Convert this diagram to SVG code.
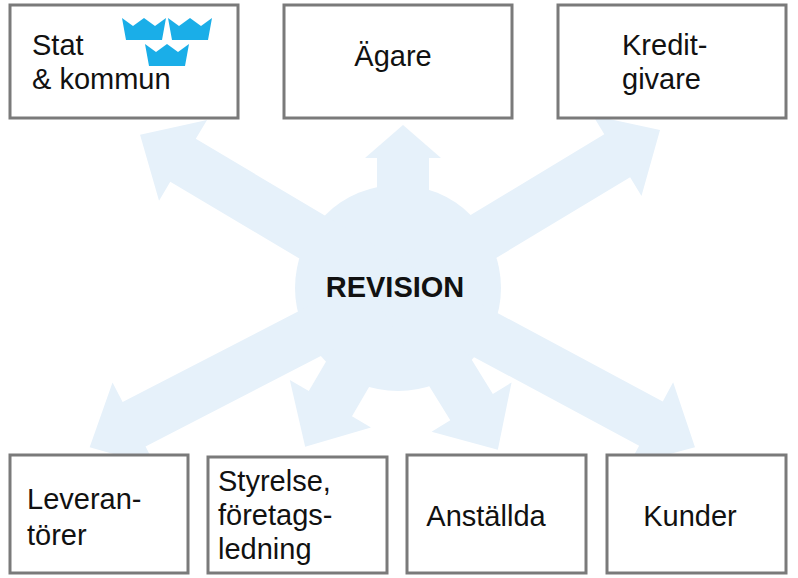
<svg xmlns="http://www.w3.org/2000/svg" width="798" height="578" viewBox="0 0 798 578">
<defs>
<style>
.box{fill:#fff;stroke:#7a7a7a;stroke-width:3}
.t{font-family:"Liberation Sans",Arial,sans-serif;font-size:29px;fill:#111}
.a{fill:#e6f1fa}
.cr{fill:#1aaee8}
</style>
<path id="crown" d="M0,0 L11,8 L22,0 L33,8 L44,0 L40,22 L4,22 Z"/>
</defs>
<rect width="798" height="578" fill="#fff"/>
<g id="connectors">
<circle class="a" cx="398" cy="288" r="103"/>
<polygon class="a" transform="translate(398,288) rotate(210.7)" points="0,-25 250,-25 250,-47 300,0 250,47 250,25 0,25"/>
<polygon class="a" transform="translate(403,288) rotate(-90)" points="0,-26 130,-26 130,-38 163,0 130,38 130,26 0,26"/>
<polygon class="a" transform="translate(398,288) rotate(-31.1)" points="0,-25 256,-25 256,-47 306,0 256,47 256,25 0,25"/>
<polygon class="a" transform="translate(398,288) rotate(152.7)" points="0,-25 297,-25 297,-47 347,0 297,47 297,25 0,25"/>
<polygon class="a" transform="translate(398,288) rotate(120.3)" points="0,-25 134,-25 134,-47 184,0 134,47 134,25 0,25"/>
<polygon class="a" transform="translate(398,288) rotate(58.3)" points="0,-25 140,-25 140,-47 190,0 140,47 140,25 0,25"/>
<polygon class="a" transform="translate(398,288) rotate(28.2)" points="0,-25 287,-25 287,-47 337,0 287,47 287,25 0,25"/>
</g>
<g id="revision"><text class="t" x="395" y="297" text-anchor="middle" font-weight="bold" font-size="30">REVISION</text></g>
<g id="stat">
<rect class="box" x="10" y="5" width="228" height="113"/>
<text class="t" x="32" y="55">Stat</text>
<text class="t" x="32" y="89">&amp; kommun</text>
<use href="#crown" class="cr" x="122" y="18"/>
<use href="#crown" class="cr" x="168" y="18"/>
<use href="#crown" class="cr" x="145" y="44"/>
</g>
<g id="agare"><rect class="box" x="284" y="5" width="228" height="113"/><text class="t" x="393" y="66" text-anchor="middle">Ägare</text></g>
<g id="kredit"><rect class="box" x="558" y="5" width="228" height="113"/><text class="t" x="622" y="55">Kredit-</text><text class="t" x="622" y="89">givare</text></g>
<g id="lev"><rect class="box" x="10" y="455" width="178" height="118"/><text class="t" x="27" y="509">Leveran-</text><text class="t" x="27" y="545">törer</text></g>
<g id="styr"><rect class="box" x="208" y="457" width="179" height="116"/><text class="t" x="218" y="491">Styrelse,</text><text class="t" x="218" y="525">företags-</text><text class="t" x="218" y="559">ledning</text></g>
<g id="anst"><rect class="box" x="407" y="455" width="179" height="118"/><text class="t" x="486" y="526" text-anchor="middle">Anställda</text></g>
<g id="kund"><rect class="box" x="607" y="455" width="179" height="118"/><text class="t" x="690" y="526" text-anchor="middle">Kunder</text></g>
</svg>
